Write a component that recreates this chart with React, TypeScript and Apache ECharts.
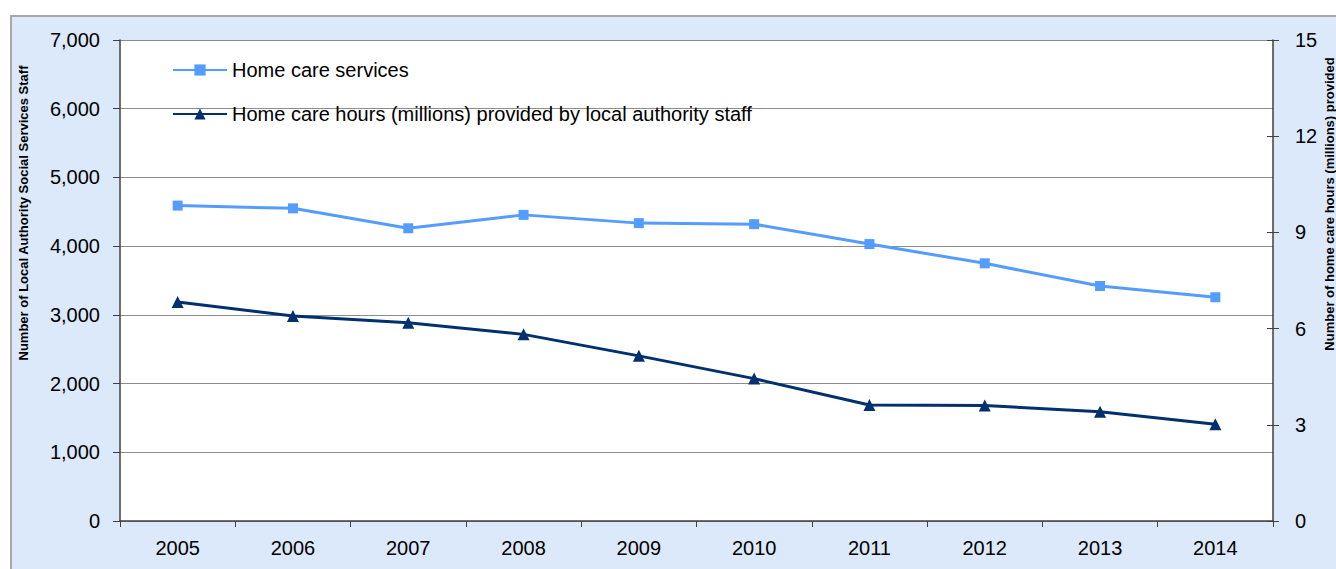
import React, { useEffect, useRef } from "react";
import * as echarts from "echarts";

const years = ["2005", "2006", "2007", "2008", "2009", "2010", "2011", "2012", "2013", "2014"];
const homeCareServices = [4590, 4550, 4260, 4455, 4335, 4320, 4030, 3750, 3420, 3256];
const homeCareHours = [6.83, 6.39, 6.18, 5.82, 5.15, 4.44, 3.62, 3.6, 3.41, 3.02];
const leftAxisName = "Number of Local Authority Social Services Staff";
const rightAxisName = "Number of home care hours (millions) provided";
const seriesNames = ["Home care services", "Home care hours (millions) provided by local authority staff"];

const FONT = "'Liberation Sans', Arial, sans-serif";

export default function App() {
  const ref = useRef<HTMLDivElement>(null);
  useEffect(() => {
    document.body.style.margin = "0";
    const chart = echarts.init(ref.current!, null, { renderer: "svg" });
    chart.setOption({
      animation: false,
      backgroundColor: "transparent",
      textStyle: { fontFamily: FONT },
      grid: {
        left: 120,
        right: 63,
        top: 40,
        bottom: 48,
        show: true,
        backgroundColor: "#ffffff",
        borderWidth: 0,
      },
      legend: {
        orient: "vertical",
        left: 167,
        top: 54,
        padding: 5,
        itemWidth: 54,
        itemHeight: 14,
        itemGap: 22,
        textStyle: { fontSize: 20, color: "#000", fontFamily: FONT, lineHeight: 22 },
        data: seriesNames,
      },
      xAxis: {
        type: "category",
        data: years,
        boundaryGap: true,
        axisLine: { lineStyle: { color: "#404040", width: 1.5 } },
        axisTick: { show: true, length: 6, lineStyle: { color: "#404040" } },
        axisLabel: { fontSize: 20, color: "#000", margin: 17, fontFamily: FONT },
      },
      yAxis: [
        {
          type: "value",
          min: 0,
          max: 7000,
          interval: 1000,
          position: "left",
          axisLine: { show: true, lineStyle: { color: "#404040", width: 1.5 } },
          axisTick: { show: true, length: 7, lineStyle: { color: "#404040" } },
          axisLabel: {
            fontSize: 20,
            color: "#000",
            margin: 20,
            fontFamily: FONT,
            formatter: (v: number) => v.toLocaleString("en-US"),
          },
          splitLine: { show: true, lineStyle: { color: "#8c8c8c", width: 1.2 } },
        },
        {
          type: "value",
          min: 0,
          max: 15,
          interval: 3,
          position: "right",
          axisLine: { show: true, lineStyle: { color: "#404040", width: 1.5 } },
          axisTick: { show: true, length: 6, lineStyle: { color: "#404040" } },
          axisLabel: { fontSize: 20, color: "#000", margin: 22, fontFamily: FONT },
          splitLine: { show: false },
        },
        {
          type: "value",
          min: 0,
          max: 15,
          interval: 3,
          position: "right",
          axisLine: { show: false },
          axisTick: { show: true, inside: true, length: 6, lineStyle: { color: "#404040" } },
          axisLabel: { show: false },
          splitLine: { show: false },
        },
      ],
      graphic: [
        {
          type: "text",
          x: 23,
          y: 213,
          rotation: Math.PI / 2,
          style: {
            text: leftAxisName,
            font: `bold 13px ${FONT}`,
            fill: "#000",
            align: "center",
            verticalAlign: "middle",
          },
        },
        {
          type: "text",
          x: 1329,
          y: 204,
          rotation: Math.PI / 2,
          style: {
            text: rightAxisName,
            font: `bold 13px ${FONT}`,
            fill: "#000",
            align: "center",
            verticalAlign: "middle",
          },
        },
      ],
      series: [
        {
          name: seriesNames[0],
          type: "line",
          yAxisIndex: 0,
          data: homeCareServices,
          symbol: "rect",
          symbolSize: 10,
          lineStyle: { color: "#559cff", width: 3 },
          itemStyle: { color: "#559cff" },
        },
        {
          name: seriesNames[1],
          type: "line",
          yAxisIndex: 1,
          data: homeCareHours,
          symbol: "triangle",
          symbolSize: 12,
          lineStyle: { color: "#00306e", width: 3 },
          itemStyle: { color: "#00306e" },
        },
      ],
    });
    return () => chart.dispose();
  }, []);
  return (
    <div style={{ position: "absolute", left: 0, top: 0, width: 1336, height: 569, background: "#ffffff", overflow: "hidden" }}>
      <div
        style={{
          position: "absolute",
          left: 10,
          top: 15,
          width: 1340,
          height: 570,
          background: "#dce9fb",
          borderLeft: "2px solid #a8a8a8",
          borderTop: "2px solid #a8a8a8",
        }}
      />
      <div ref={ref} style={{ position: "absolute", left: 0, top: 0, width: 1336, height: 569 }} />
    </div>
  );
}
